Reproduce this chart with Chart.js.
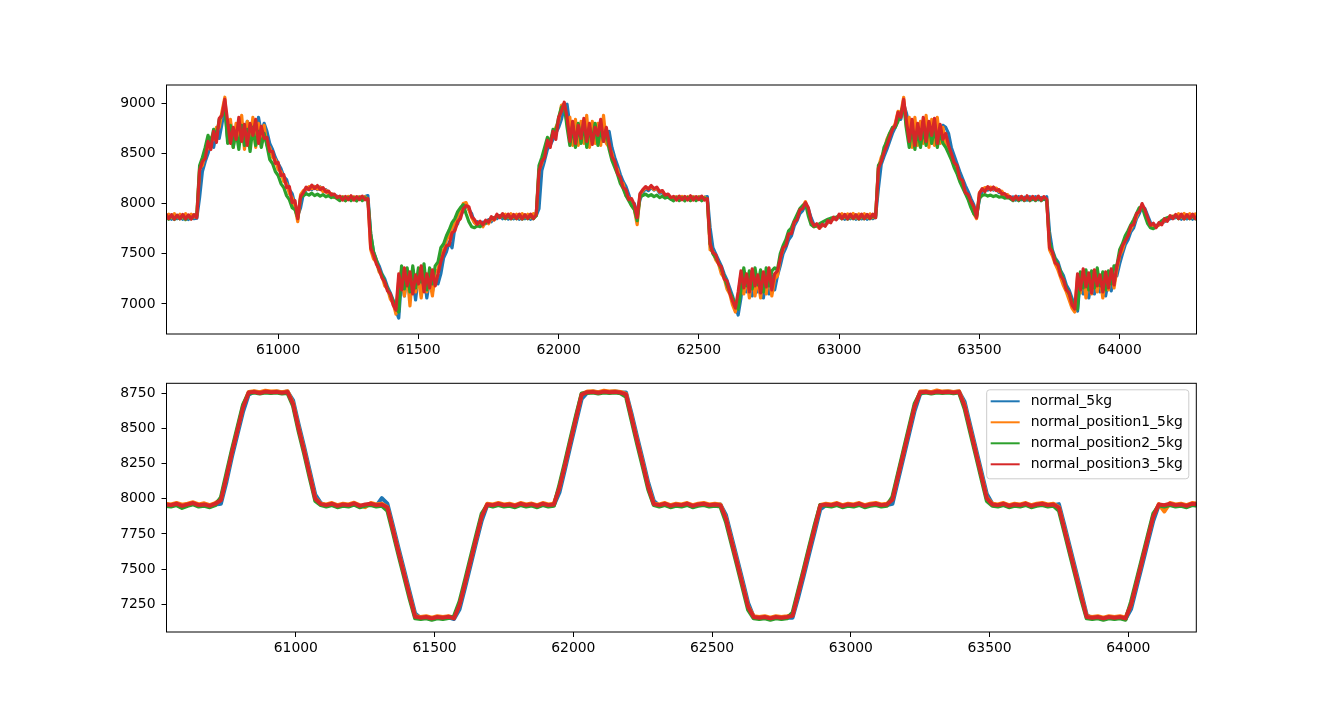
<!DOCTYPE html>
<html><head><meta charset="utf-8">
<script src="https://cdn.jsdelivr.net/npm/chart.js@4.4.1/dist/chart.umd.min.js"></script>
<style>
html,body{margin:0;padding:0;background:#fff;width:1329px;height:710px;overflow:hidden;}
canvas{position:absolute;left:0;}
#c1{top:0;}
#c2{top:360px;}
</style></head><body>
<canvas id="c1" width="1329" height="360"></canvas>
<canvas id="c2" width="1329" height="350"></canvas>
<script>
// ---------- names / ticks ----------
const seriesNames = ['normal_5kg', 'normal_position1_5kg', 'normal_position2_5kg', 'normal_position3_5kg'];
const xTickValues = [61000, 61500, 62000, 62500, 63000, 63500, 64000];
const topYTicks = [7000, 7500, 8000, 8500, 9000];
const bottomYTicks = [7250, 7500, 7750, 8000, 8250, 8500, 8750];

// sampling clock of each panel (first sample, spacing)
const topStart = 60600, topStep = 10;
const bottomStart = 60530, bottomStep = 20;

// ---------- upper panel values (one sample every 10, 60600..64280) ----------
const topBlue = [
7860,7880,7845,7875,7850,7880,7845,7878,7842,7875,7850,7855,
8060,8320,8420,8500,8600,8560,8700,8650,8800,
8960,
8640,8800,8620,8760,8600,8790,8640,8820,8620,8760,8640,8860,8700,8800,
8720,8600,8540,8460,8400,8350,8270,8240,8140,8100,7990,
7880,7960,8100,
8135,8160,8140,8170,8140,8165,8125,8140,8095,8100,8065,8075,
8040,8068,8035,8070,8038,8065,8035,8068,8040,8070,8080,
7700,7520,7440,7380,7300,7250,7170,7110,7040,6930,
6860,7250,7080,7300,7120,7260,7040,7280,7150,7300,7060,7240,7120,7280,7200,
7300,7460,7520,7620,7560,7760,7800,7900,7920,7990,7940,7900,
7810,7820,7785,7815,7800,7840,7820,7860,7850,7880,
7850,7885,7845,7880,7848,7882,7845,7880,7850,7882,7845,7878,7880,
7950,8330,8430,8540,8580,8640,8700,8760,8840,8960,8990,
8780,8640,8800,8640,8780,8620,8800,8660,8780,8640,8740,8660,8800,8700,
8720,8560,8460,8380,8290,8220,8170,8090,8000,8000,
7900,8040,
8110,8150,8130,8160,8135,8150,8105,8110,8070,8075,8045,
8040,8068,8035,8070,8038,8065,8035,8068,8040,8070,8038,8062,8070,
7760,7560,7500,7440,7380,7300,7240,7160,7080,6980,
6890,7060,7300,7120,7260,7080,7280,7120,7300,7060,7260,7100,7280,7140,7280,
7380,7500,7560,7640,7680,7780,7830,7900,7930,7990,7950,
7860,7790,7780,7770,7780,7790,7810,7830,7845,7855,
7860,7880,7845,7878,7850,7880,7845,7878,7848,7882,7845,7878,7850,7870,
8150,8390,8470,8540,8620,8700,8760,8840,8840,8990,8900,
8780,8640,8800,8660,8760,8640,8800,8660,8760,8640,8800,8680,8780,8760,
8700,8560,8480,8400,8320,8250,8180,8120,8050,7990,
7880,8040,
8120,8150,8135,8160,8135,8150,8110,8115,8080,8085,8050,
8068,8035,8070,8038,8065,8035,8068,8040,8070,8038,8062,8040,8070,
7720,7540,7460,7420,7330,7280,7190,7140,7060,6980,
6930,7260,7100,7270,7060,7250,7100,7280,7120,7260,7080,7240,7130,7290,7280,
7400,7500,7590,7640,7720,7760,7850,7900,7970,7950,
7880,7810,7790,7780,7790,7805,7820,7840,7850,7855,
7860,7875,7845,7878,7848,7875,7845,7872,7860];

const topOrange = [
7870,7895,7860,7900,7862,7895,7858,7900,7860,7895,7865,7880,
8350,8380,8500,8560,8660,8640,8760,8760,8920,
9060,
8650,8840,8560,8800,8600,8880,8540,8820,8620,8860,8560,8800,8640,8780,
8580,8560,8460,8440,8340,8320,8220,8200,8100,8060,7960,
7820,8090,8130,
8140,8170,8150,8170,8145,8165,8120,8135,8090,8100,8060,8070,
8040,8070,8030,8072,8035,8068,8030,8070,8035,8068,8040,
7540,7450,7420,7320,7280,7180,7150,7050,7010,6900,
7240,7340,7080,7300,6980,7340,7120,7260,7060,7300,7120,7240,7080,7320,7340,
7480,7540,7640,7680,7760,7800,7880,7920,8000,8010,7940,7860,
7810,7780,7800,7770,7820,7800,7850,7835,7880,7870,
7870,7895,7862,7900,7860,7895,7858,7900,7862,7895,7860,7900,7880,
8340,8400,8540,8600,8640,8700,8760,8820,8980,8990,8800,
8860,8580,8840,8580,8820,8600,8880,8560,8820,8600,8800,8580,8880,8600,
8560,8500,8380,8340,8220,8200,8080,8060,7980,7940,
7790,8090,
8130,8160,8150,8170,8140,8155,8115,8125,8080,8090,8055,
8040,8070,8032,8072,8035,8068,8030,8070,8035,8068,8040,8065,8040,
7540,7520,7440,7400,7300,7260,7150,7100,6990,6920,
7080,7300,7100,7280,7060,7320,7080,7260,7060,7300,7100,7320,7080,7250,7280,
7460,7540,7620,7700,7740,7810,7870,7940,7970,8020,7920,
7810,7770,7780,7755,7785,7780,7815,7825,7850,7850,
7870,7900,7862,7898,7860,7902,7858,7898,7862,7900,7860,7898,7862,7880,
8360,8460,8520,8640,8700,8740,8800,8920,8900,9060,8760,
8860,8560,8860,8580,8820,8600,8880,8560,8840,8580,8860,8600,8760,8600,
8520,8460,8380,8320,8250,8180,8120,8050,7990,7900,
7850,8110,
8140,8160,8150,8165,8145,8155,8120,8125,8085,8090,8055,
8040,8070,8035,8072,8032,8070,8035,8068,8038,8070,8035,8065,8040,
7540,7480,7400,7340,7260,7180,7120,7040,6960,6920,
7280,7110,7300,7060,7280,7100,7320,7120,7280,7060,7260,7140,7320,7160,7340,
7480,7540,7640,7690,7750,7800,7870,7940,7980,7910,
7840,7790,7775,7770,7785,7805,7830,7855,7870,7875,
7870,7900,7865,7902,7868,7900,7865,7898,7885];

const topGreen = [
7880,7845,7885,7842,7882,7848,7885,7840,7880,7848,7885,7880,
8380,8460,8560,8680,8600,8740,8660,8840,8880,
8970,
8600,8780,8560,8720,8540,8780,8580,8740,8520,8760,8580,8720,8560,8700,
8580,8440,8400,8320,8280,8200,8160,8080,8040,7960,7940,
7860,8060,8080,
8100,8085,8105,8080,8095,8075,8090,8068,8080,8060,8070,8050,
8030,8062,8028,8060,8030,8058,8028,8060,8030,8058,8035,
7700,7520,7440,7340,7290,7220,7150,7090,7030,6960,
6920,7380,7150,7360,7120,7380,7160,7360,7220,7400,7140,7360,7200,7380,7420,
7560,7600,7680,7740,7810,7850,7920,7960,7990,7900,7820,7770,
7760,7780,7770,7800,7810,7830,7850,7860,7870,7875,
7880,7850,7885,7848,7882,7850,7885,7845,7882,7850,7885,7850,7880,
8380,8460,8560,8660,8600,8740,8720,8860,8960,8980,8760,
8580,8780,8560,8800,8600,8820,8560,8760,8620,8800,8580,8760,8620,8740,
8540,8430,8360,8290,8200,8150,8080,8030,7980,7940,
7830,8070,
8080,8095,8075,8090,8070,8085,8060,8075,8055,8065,8045,
8028,8060,8030,8058,8028,8062,8030,8058,8030,8060,8028,8055,8040,
7600,7500,7460,7410,7350,7270,7190,7120,7060,6980,
6950,7140,7360,7180,7330,7150,7360,7190,7340,7120,7360,7180,7330,7360,7340,
7500,7580,7640,7730,7760,7830,7890,7950,7980,8000,7880,
7790,7770,7780,7800,7815,7830,7845,7855,7860,7865,
7880,7848,7885,7845,7882,7850,7885,7845,7882,7848,7885,7850,7880,7860,
8380,8420,8560,8620,8700,8760,8760,8820,8900,8990,8740,
8560,8780,8540,8740,8560,8760,8580,8800,8600,8760,8560,8720,8600,8560,
8500,8440,8360,8300,8220,8160,8100,8040,7960,7900,
7870,8060,
8080,8090,8075,8085,8070,8080,8065,8070,8055,8060,8050,
8030,8060,8028,8058,8030,8062,8028,8058,8030,8060,8028,8055,8030,
7620,7520,7450,7390,7320,7240,7160,7100,7030,6960,
6950,7320,7160,7340,7140,7330,7160,7360,7180,7320,7140,7330,7200,7380,7380,
7540,7600,7680,7730,7790,7840,7900,7960,7970,7880,
7800,7760,7750,7770,7800,7830,7850,7860,7865,7870,
7880,7850,7885,7848,7882,7850,7885,7848,7875];

const topRed = [
7895,7850,7890,7845,7885,7850,7892,7848,7888,7845,7890,7860,
8330,8420,8450,8620,8540,8720,8610,8850,8880,
9040,
8820,8600,8760,8640,8860,8620,8790,8580,8800,8680,8840,8600,8770,8650,
8660,8520,8520,8400,8410,8280,8290,8160,8170,8010,8030,
7850,8070,8110,
8165,8140,8185,8150,8180,8140,8160,8115,8125,8085,8095,8060,
8075,8035,8072,8038,8078,8035,8070,8040,8075,8038,8050,
7560,7490,7400,7350,7260,7220,7130,7100,6990,6940,
7300,7140,7360,7180,7320,7100,7290,7200,7380,7120,7300,7160,7340,7180,7300,
7420,7510,7580,7590,7710,7730,7820,7850,7950,7980,7970,7870,
7840,7795,7825,7790,7835,7815,7870,7840,7895,7860,
7900,7855,7895,7850,7892,7850,7895,7848,7890,7852,7895,7850,7890,
8320,8420,8460,8630,8560,8720,8640,8860,8920,9010,8860,
8620,8820,8600,8780,8650,8850,8620,8800,8590,8760,8680,8840,8620,8760,
8600,8470,8420,8300,8260,8160,8140,8040,8050,7990,
7860,8100,
8140,8170,8145,8180,8150,8165,8120,8130,8085,8095,8060,
8072,8035,8075,8038,8072,8036,8078,8035,8070,8040,8075,8035,8050,
7600,7510,7490,7400,7370,7250,7230,7110,7030,6960,
7120,7330,7160,7300,7120,7350,7180,7290,7110,7320,7170,7360,7140,7300,7330,
7450,7560,7580,7700,7700,7820,7840,7940,7950,8010,7960,
7830,7780,7800,7755,7795,7775,7830,7810,7865,7840,
7895,7850,7893,7848,7895,7852,7890,7848,7895,7850,7892,7852,7895,7860,
8350,8420,8510,8580,8660,8740,8780,8910,8860,9040,8820,
8620,8840,8580,8800,8640,8860,8620,8820,8680,8850,8600,8790,8640,8700,
8580,8500,8410,8380,8250,8230,8110,8090,8020,7970,
7860,8100,
8150,8120,8170,8135,8165,8130,8140,8095,8100,8065,8070,
8035,8075,8038,8072,8035,8078,8036,8072,8038,8075,8035,8070,8045,
7560,7520,7410,7390,7280,7240,7140,7110,6990,6950,
7300,7140,7350,7170,7310,7110,7340,7180,7290,7120,7320,7160,7350,7190,7380,
7490,7580,7630,7680,7780,7790,7900,7920,8000,7940,
7860,7785,7805,7760,7810,7790,7850,7825,7880,7850,
7892,7850,7895,7848,7890,7852,7895,7850,7885];

// ---------- lower panel values (one sample every 20, 60530..64250) ----------
const bottomBlue = [
7955,7950,7960,7945,7955,7965,7950,7955,7945,7960,
7965,8120,8300,8460,8620,8740,8762,8755,8760,8755,
8762,8756,8762,8700,8530,8370,8200,8030,7970,7950,
7960,7945,7955,7950,7962,7945,7955,7960,7950,8005,
7965,7810,7650,7495,7340,7185,7150,7158,7145,7155,
7150,7158,7145,7215,7370,7530,7690,7845,7955,7950,
7960,7950,7955,7945,7960,7950,7958,7945,7960,7950,
7955,8045,8210,8380,8545,8710,8755,8762,8756,8760,
8760,8762,8757,8755,8605,8440,8280,8115,7985,7950,
7960,7945,7955,7950,7960,7945,7955,7960,7950,7955,
7960,7885,7730,7575,7420,7260,7160,7150,7155,7145,
7155,7150,7155,7155,7295,7450,7610,7765,7925,7955,
7950,7960,7945,7955,7950,7962,7945,7955,7960,7950,
7955,7965,8130,8295,8460,8625,8745,8762,8756,8760,
8760,8762,8757,8762,8690,8525,8362,8198,8035,7965,
7950,7960,7945,7955,7950,7962,7945,7955,7960,7950,
7955,7962,7810,7652,7495,7338,7175,7150,7155,7145,
7155,7150,7155,7145,7216,7373,7530,7687,7844,7955,
7950,7960,7950,7955,7945,7960,7955];

const bottomOrange = [
7965,7960,7970,7958,7965,7975,7960,7968,7955,7970,
7995,8160,8335,8495,8660,8760,8765,8758,8768,8762,
8765,8758,8765,8680,8505,8345,8175,8005,7965,7960,
7970,7955,7965,7960,7972,7955,7940,7970,7960,7965,
7940,7785,7625,7470,7315,7165,7160,7165,7155,7165,
7160,7165,7155,7250,7405,7565,7722,7880,7965,7960,
7970,7960,7965,7955,7970,7960,7966,7955,7970,7960,
7965,8082,8245,8415,8580,8745,8763,8765,8758,8768,
8762,8765,8760,8745,8580,8415,8255,8090,7965,7960,
7970,7955,7965,7960,7970,7955,7965,7970,7960,7965,
7960,7862,7705,7550,7392,7235,7165,7160,7165,7155,
7165,7160,7165,7172,7330,7485,7645,7800,7957,7965,
7960,7970,7955,7965,7960,7970,7955,7965,7970,7960,
7965,7998,8165,8330,8495,8660,8762,8765,8758,8770,
8762,8765,8760,8765,8665,8500,8337,8173,8008,7965,
7960,7970,7955,7965,7960,7970,7955,7965,7970,7960,
7965,7940,7785,7627,7470,7313,7165,7160,7165,7155,
7165,7160,7165,7155,7251,7408,7565,7722,7879,7962,
7910,7970,7960,7965,7955,7970,7965];

const bottomGreen = [
7950,7945,7955,7935,7950,7960,7945,7950,7940,7955,
8010,8180,8350,8510,8670,8752,8755,8748,8756,8752,
8755,8748,8752,8660,8480,8320,8150,7985,7955,7945,
7955,7940,7950,7945,7958,7940,7950,7955,7945,7950,
7915,7760,7600,7445,7290,7150,7145,7150,7140,7150,
7145,7152,7165,7270,7425,7585,7740,7895,7955,7945,
7955,7945,7950,7940,7955,7945,7952,7940,7955,7945,
7950,8100,8262,8430,8595,8748,8752,8755,8748,8756,
8752,8755,8750,8725,8556,8390,8230,8065,7955,7945,
7955,7940,7950,7945,7956,7940,7950,7955,7945,7950,
7945,7835,7680,7525,7368,7210,7150,7145,7150,7140,
7150,7145,7150,7190,7345,7500,7660,7815,7955,7950,
7945,7955,7940,7950,7945,7956,7940,7950,7955,7945,
7950,8015,8180,8345,8510,8676,8752,8755,8748,8756,
8752,8755,8750,8755,8640,8475,8312,8148,7985,7950,
7945,7955,7940,7950,7945,7956,7940,7950,7955,7945,
7950,7915,7760,7602,7445,7288,7150,7145,7150,7140,
7150,7145,7150,7140,7270,7425,7580,7737,7894,7952,
7945,7955,7945,7950,7940,7955,7950];

const bottomRed = [
7960,7955,7965,7950,7960,7970,7955,7960,7950,7965,
7990,8155,8330,8490,8650,8755,8760,8752,8762,8758,
8760,8754,8760,8675,8500,8340,8170,8000,7962,7955,
7965,7950,7960,7955,7968,7950,7960,7965,7955,7960,
7938,7780,7620,7466,7310,7162,7155,7160,7150,7160,
7155,7162,7150,7245,7400,7560,7718,7875,7960,7955,
7965,7955,7960,7950,7965,7955,7962,7950,7965,7955,
7960,8078,8240,8410,8575,8740,8758,8760,8754,8762,
8758,8760,8755,8742,8576,8410,8250,8085,7962,7955,
7965,7950,7960,7955,7966,7950,7960,7965,7955,7960,
7955,7858,7700,7545,7388,7230,7160,7155,7160,7150,
7160,7155,7160,7168,7325,7480,7640,7796,7952,7960,
7955,7965,7950,7960,7955,7966,7950,7960,7965,7955,
7960,7993,8160,8325,8490,8656,8757,8760,8754,8762,
8758,8760,8755,8760,8660,8495,8332,8168,8004,7960,
7955,7965,7950,7960,7955,7966,7950,7960,7965,7955,
7960,7936,7780,7622,7465,7308,7160,7155,7160,7150,
7160,7155,7160,7150,7246,7403,7560,7717,7874,7960,
7955,7965,7955,7960,7950,7965,7960];

// ---------- styling ----------
const lineColors = ['#1f77b4', '#ff7f0e', '#2ca02c', '#d62728'];
const FONT = 13.9;
Chart.defaults.font.family = '"DejaVu Sans", sans-serif';
Chart.defaults.font.size = FONT;
Chart.defaults.color = '#000';

const clock = (start, step, n) => Array.from({length: n}, (_, i) => start + step * i);

const framePlugin = {
  id: 'frame',
  afterDraw(chart) {
    const {ctx, chartArea: a} = chart;
    ctx.save();
    ctx.strokeStyle = '#000';
    ctx.lineWidth = 1;
    ctx.strokeRect(a.left, a.top, a.right - a.left, a.bottom - a.top);
    ctx.restore();
  }
};

const legendPlugin = {
  id: 'mplLegend',
  afterDraw(chart) {
    if (!chart.options.plugins.mplLegend || !chart.options.plugins.mplLegend.show) return;
    const {ctx, chartArea: a} = chart;
    const ds = chart.data.datasets;
    ctx.save();
    ctx.font = FONT + 'px "DejaVu Sans", sans-serif';
    let tw = 0;
    ds.forEach(d => { tw = Math.max(tw, ctx.measureText(d.label).width); });
    const padL = 4, lineLen = 29, gap = 11, padR = 6;
    const w = padL + lineLen + gap + tw + padR;
    const rowH = 21;
    const h = 89;
    const right = a.right - 7.5;
    const left = right - w;
    const top = a.top + 6.5;
    const r = 3;
    ctx.beginPath();
    ctx.moveTo(left + r, top);
    ctx.lineTo(left + w - r, top);
    ctx.arcTo(left + w, top, left + w, top + r, r);
    ctx.lineTo(left + w, top + h - r);
    ctx.arcTo(left + w, top + h, left + w - r, top + h, r);
    ctx.lineTo(left + r, top + h);
    ctx.arcTo(left, top + h, left, top + h - r, r);
    ctx.lineTo(left, top + r);
    ctx.arcTo(left, top, left + r, top, r);
    ctx.closePath();
    ctx.fillStyle = 'rgba(255,255,255,0.8)';
    ctx.fill();
    ctx.strokeStyle = '#cccccc';
    ctx.lineWidth = 1;
    ctx.stroke();
    ds.forEach((d, i) => {
      const cy = top + 11.5 + i * rowH;
      ctx.beginPath();
      ctx.moveTo(left + padL, cy);
      ctx.lineTo(left + padL + lineLen, cy);
      ctx.strokeStyle = d.borderColor;
      ctx.lineWidth = 2;
      ctx.stroke();
      ctx.fillStyle = '#000';
      ctx.textBaseline = 'middle';
      ctx.textAlign = 'left';
      ctx.fillText(d.label, left + padL + lineLen + gap, cy + 0.5);
    });
    ctx.restore();
  }
};

function buildChart(canvasId, xs, series, xr, yr, yTicks, padding, axisHeight, lineWidth, showLegend) {
  return new Chart(document.getElementById(canvasId), {
    type: 'line',
    data: {
      labels: xs,
      datasets: series.map((vals, i) => ({
        label: seriesNames[i],
        data: vals,
        borderColor: lineColors[i],
        backgroundColor: lineColors[i],
        borderWidth: lineWidth,
        borderJoinStyle: 'round',
        borderCapStyle: 'round',
        pointRadius: 0,
        tension: 0,
        fill: false,
        clip: 0,
        order: series.length - i
      }))
    },
    options: {
      responsive: false,
      animation: false,
      devicePixelRatio: 1,
      events: [],
      layout: {padding},
      plugins: {legend: {display: false}, tooltip: {enabled: false}, mplLegend: {show: showLegend}},
      scales: {
        x: {
          type: 'linear', min: xr[0], max: xr[1],
          afterBuildTicks: s => { s.ticks = xTickValues.map(v => ({value: v})); },
          afterFit: s => { s.height = axisHeight; },
          ticks: {autoSkip: false, maxRotation: 0, minRotation: 0, padding: 3, color: '#000', callback: v => String(v)},
          grid: {drawOnChartArea: false, drawTicks: true, tickLength: 5, tickColor: '#000', tickWidth: 1},
          border: {display: false}
        },
        y: {
          type: 'linear', min: yr[0], max: yr[1],
          afterBuildTicks: s => { s.ticks = yTicks.map(v => ({value: v})); },
          afterFit: s => { s.width = 166.5; },
          ticks: {padding: 6, color: '#000', callback: v => String(v)},
          grid: {drawOnChartArea: false, drawTicks: true, tickLength: 5, tickColor: '#000', tickWidth: 1},
          border: {display: false}
        }
      }
    },
    plugins: [framePlugin, legendPlugin]
  });
}

const topSeries = [topBlue, topOrange, topGreen, topRed];
const bottomSeries = [bottomBlue, bottomOrange, bottomGreen, bottomRed];

buildChart('c1', clock(topStart, topStep, topRed.length), topSeries,
  [60602, 64274], [6701, 9182], topYTicks,
  {left: 0, right: 1329 - 1196.5, top: 85, bottom: 0}, 26, 3.2, false);

buildChart('c2', clock(bottomStart, bottomStep, bottomRed.length), bottomSeries,
  [60534, 64245], [7053, 8821], bottomYTicks,
  {left: 0, right: 1329 - 1196.3, top: 23.3, bottom: 52}, 26, 4, true);
</script>
</body></html>
